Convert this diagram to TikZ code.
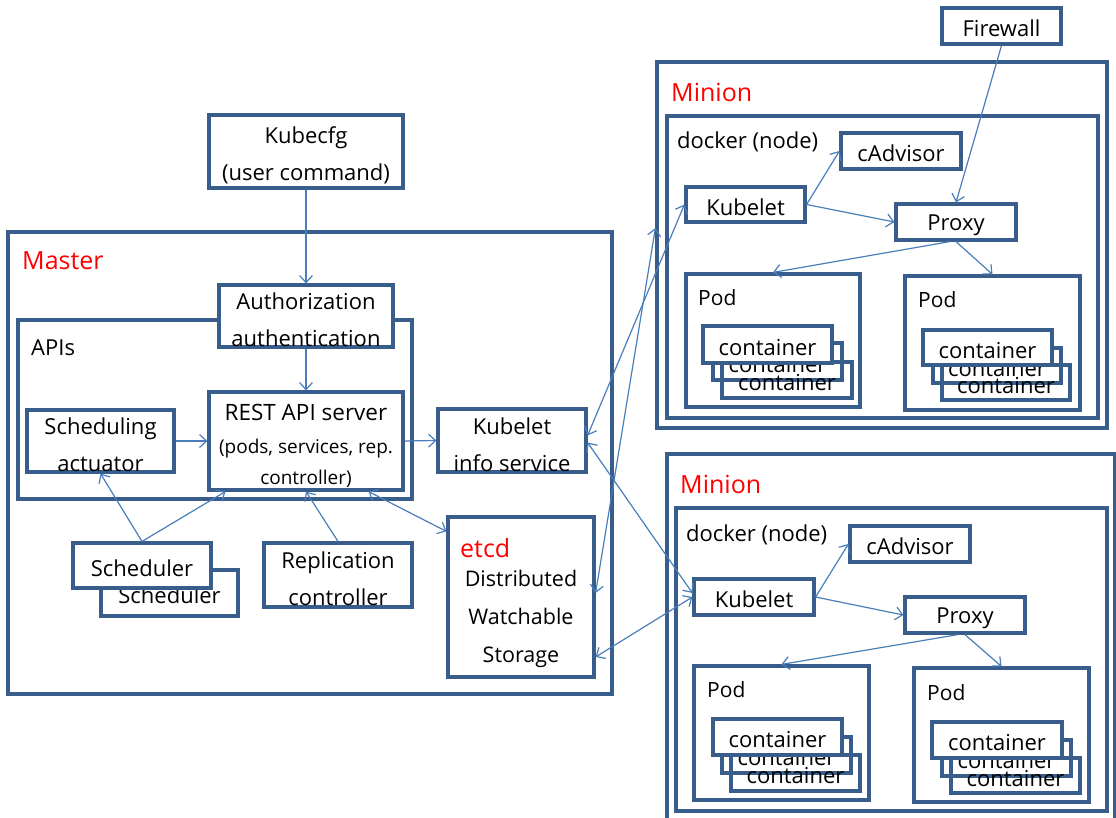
\documentclass[tikz,border=0pt]{standalone}
\usepackage{fontspec}
\setmainfont{Open Sans}
\usetikzlibrary{arrows.meta}
\definecolor{bdr}{RGB}{56,93,138}
\definecolor{ln}{RGB}{74,126,187}
\newcommand\fsz[2]{\fontsize{#1}{#2}\selectfont}
\newcommand\tstrut{\rule{0pt}{24.5pt}}
\newcommand\bx[7][]{\node[box,#1,minimum width={(#5-#3)*1pt},minimum height={(#6-#4)*1pt}] (#2) at ({(#3+#5)/2},{(#4+#6)/2}) {#7};}
\begin{document}
\begin{tikzpicture}[x=1pt,y=-1pt,
  box/.style={draw=bdr,line width=3.2pt,fill=white,inner sep=0pt,align=center,font=\fsz{22}{37},
    execute at begin node={\rule{0pt}{22pt}}},
  obox/.style={box,fill=none},
  lbl/.style={anchor=west,inner sep=0pt,font=\fsz{21}{25}},
  redlbl/.style={anchor=west,inner sep=0pt,text=red,font=\fsz{25}{28}},
  >={Straight Barb[length=7pt,width=13pt]},
  conn/.style={draw=ln,line width=1.2pt,->},
  bconn/.style={draw=ln,line width=1.2pt,<->}]
\useasboundingbox (0,0) rectangle (1116,817);
\clip (0,0) rectangle (1116,817);

% ---------------- Master ----------------
\bx{Kubecfg}{209}{115}{403}{188}{\tstrut Kubecfg\\(user command)}
\bx[obox]{Master}{8}{232}{612}{694}{}
\node[redlbl] (MasterL) at (22,261) {Master};
\bx[obox]{APIs}{18}{320}{412}{499}{}
\node[lbl,font=\fsz{22}{25}] (APIsL) at (31,348) {APIs};
\bx{Auth}{219}{285}{393}{347}{\tstrut Authorization\\authentication}
\bx{REST}{209}{392}{403}{490}{}
\node[inner sep=0pt,font=\fsz{22.5}{25}] (RESTa) at (306,412) {REST API server};
\node[inner sep=0pt,align=center,font=\fsz{19}{31}] (RESTb) at (306,463) {(pods, services, rep.\\controller)};
\bx{SchedAct}{27}{410}{174}{472}{\tstrut Scheduling\\actuator}
\bx{KIS}{438}{409}{586}{472}{\tstrut Kubelet\\info service}
\bx{etcd}{448}{517}{594}{677}{}
\node[redlbl] (etcdL) at (460,548) {etcd};
\node[inner sep=0pt,align=center,font=\fsz{21.5}{38}] (etcdT) at (521,619) {Distributed\\Watchable\\Storage};
\bx{SchedB}{101}{570}{238}{616}{Scheduler}
\bx{SchedF}{73}{543}{211}{588}{Scheduler}
\bx{Repl}{264}{543}{412}{607}{\tstrut Replication\\controller}

% ---------------- Minion 1 ----------------
\bx{Firewall}{942}{8}{1061}{44}{Firewall}
\bx[obox]{MinionA}{657}{62}{1107}{428}{}
\node[redlbl] (MinionAL) at (671,92) {Minion};
\bx[obox]{DockerA}{667}{116}{1098}{418}{}
\node[lbl,font=\fsz{22}{25}] (DockerAL) at (677,142) {docker (node)};
\bx{cAdvA}{841}{133}{961}{169}{cAdvisor}
\bx{KubeletA}{686}{187}{805}{222}{Kubelet}
\bx{ProxyA}{896}{204}{1016}{240}{Proxy}
\bx[obox]{PodAa}{686}{274}{860}{407}{}
\node[lbl] (PodAaL) at (698,298) {Pod};
\bx{CAa2}{713}{343}{842}{380}{container}
\bx[obox]{CAa3}{722}{362}{852}{398}{container}
\bx{CAa1}{703}{326}{832}{363}{container}
\bx[obox]{PodAb}{905}{276}{1080}{410}{}
\node[lbl] (PodAbL) at (918,300) {Pod};
\bx{CAb2}{933}{348}{1061}{383}{container}
\bx[obox]{CAb3}{942}{365}{1070}{400}{container}
\bx{CAb1}{923}{330}{1052}{365}{container}

% ---------------- Minion 2 ----------------
\bx[obox]{MinionB}{667}{454}{1115}{830}{}
\node[redlbl] (MinionBL) at (680,484) {Minion};
\bx[obox]{DockerB}{676}{508}{1107}{811}{}
\node[lbl,font=\fsz{22}{25}] (DockerBL) at (686,535) {docker (node)};
\bx{cAdvB}{850}{526}{970}{562}{cAdvisor}
\bx{KubeletB}{694}{579}{814}{615}{Kubelet}
\bx{ProxyB}{905}{597}{1025}{633}{Proxy}
\bx[obox]{PodBa}{694}{666}{869}{800}{}
\node[lbl] (PodBaL) at (707,690) {Pod};
\bx{CBa2}{722}{737}{851}{773}{container}
\bx[obox]{CBa3}{731}{755}{860}{791}{container}
\bx{CBa1}{713}{719}{842}{755}{container}
\bx[obox]{PodBb}{914}{668}{1089}{802}{}
\node[lbl] (PodBbL) at (927,693) {Pod};
\bx{CBb2}{942}{740}{1071}{776}{container}
\bx[obox]{CBb3}{951}{758}{1080}{793}{container}
\bx{CBb1}{932}{722}{1062}{758}{container}

% ---------------- connectors ----------------
\draw[conn] (Kubecfg.south) -- (Auth.north);
\draw[conn] (Auth.south) -- (REST.north);
\draw[conn] (SchedAct.east) -- (REST.west);
\draw[conn] (REST.east) -- (KIS.west);
\draw[conn] (SchedF.north) -- (SchedAct.south);
\draw[conn] (SchedF.north) -- ([xshift=18pt]REST.south west);
\draw[conn] (Repl.north) -- (REST.south);
\draw[bconn] ([xshift=-36pt]REST.south east) -- ([yshift=-16pt]etcd.north west);
\draw[bconn] ([yshift=5pt]KIS.east) -- (KubeletA.west);
\draw[bconn] ([yshift=-2pt]KIS.east) -- ([yshift=4pt]KubeletB.west);
\draw[bconn] ([yshift=4pt]etcd.east) -- ([yshift=17pt]MinionA.west);
\draw[bconn] ([yshift=-60pt]etcd.east) -- (KubeletB.west);

\draw[conn] (KubeletA.east) -- (cAdvA.west);
\draw[conn] (KubeletA.east) -- (ProxyA.west);
\draw[conn] (Firewall.south) -- (ProxyA.north);
\draw[conn] ([xshift=-6pt]ProxyA.south) -- (PodAa.north);
\draw[conn] (ProxyA.south) -- (PodAb.north);

\draw[conn] (KubeletB.east) -- (cAdvB.west);
\draw[conn] (KubeletB.east) -- (ProxyB.west);
\draw[conn] ([xshift=-7pt]ProxyB.south) -- (PodBa.north);
\draw[conn] (ProxyB.south) -- (PodBb.north);
\end{tikzpicture}
\end{document}
